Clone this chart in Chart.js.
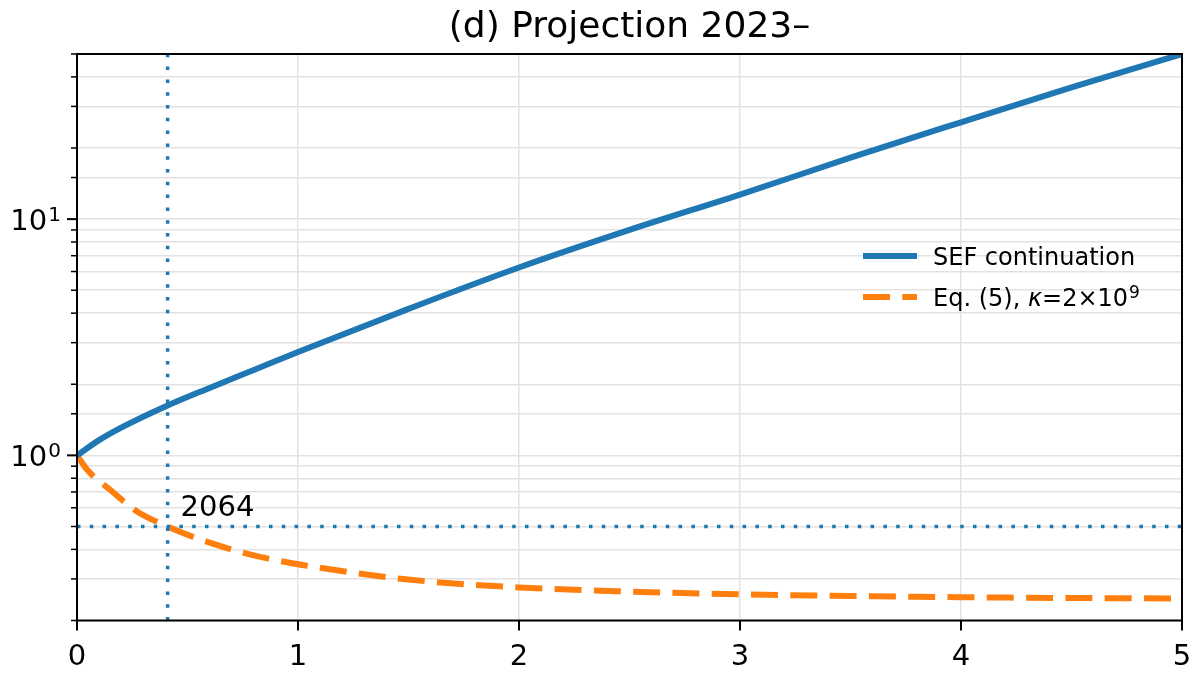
<!DOCTYPE html>
<html>
<head>
<meta charset="utf-8">
<title>Projection 2023–</title>
<script src="https://cdn.jsdelivr.net/npm/chart.js@4"></script>
<style>
  html, body { margin: 0; padding: 0; background: #fff; }
  #wrap { width: 1200px; height: 675px; }
</style>
</head>
<body>
<div id="wrap"><canvas id="projection"></canvas></div>
<script>
// x axis: centuries after 2023
const sefX = [0, 0.1, 0.2, 0.4, 0.6, 0.8, 1, 1.5, 2, 2.5, 3, 3.5, 4, 4.5, 5];
const sefY = [1.0, 1.16, 1.31, 1.61, 1.93, 2.30, 2.74, 4.17, 6.24, 9.0, 12.7, 18.2, 25.7, 36.1, 50];

const eqX = [0, 0.05, 0.15, 0.27, 0.41, 0.6, 0.85, 1.13, 1.5, 2, 2.5, 3, 3.5, 4, 4.5, 5];
const eqY = [1.0, 0.86, 0.715, 0.58, 0.5, 0.427, 0.368, 0.331, 0.298, 0.276, 0.265, 0.258, 0.254, 0.251, 0.249, 0.248];

const crossX = 0.41;      // 2064
const crossY = 0.5;
const crossLabel = '2064';

const xTicks = [0, 1, 2, 3, 4, 5];
const yRange = [0.2, 50];

const titleText = '(d) Projection 2023–';
const blue = '#1f77b4';
const orange = '#ff7f0e';
const font = 'DejaVu Sans';

const pts = (xs, ys) => xs.map((x, i) => ({ x: x, y: ys[i] }));

function isDecade(v) {
  const l = Math.log10(v);
  return Math.abs(l - Math.round(l)) < 1e-9;
}

const supChars = { '⁰': '0', '¹': '1', '²': '2', '³': '3', '⁴': '4', '⁵': '5', '⁶': '6', '⁷': '7', '⁸': '8', '⁹': '9', '⁻': '−' };
const toSup = { '0': '⁰', '1': '¹', '2': '²', '3': '³', '-': '⁻' };

function yLabel(v) {
  if (!isDecade(v)) return '';
  return '10' + String(Math.round(Math.log10(v))).split('').map(c => toSup[c]).join('');
}

// draws text with real superscripts and an italic kappa, like mathtext
function drawRich(ctx, text, x, y, size, align) {
  const segs = [];
  for (const ch of text) {
    let kind = 'n', c = ch;
    if (supChars[ch]) { kind = 's'; c = supChars[ch]; }
    else if (ch === 'κ') kind = 'i';
    const last = segs[segs.length - 1];
    if (last && last.kind === kind) last.t += c; else segs.push({ kind: kind, t: c });
  }
  const fontFor = k => (k === 'i' ? 'italic ' : '') + Math.round(k === 's' ? size * 0.7 : size) + 'px "' + font + '"';
  let w = 0;
  segs.forEach(s => { ctx.font = fontFor(s.kind); s.w = ctx.measureText(s.t).width; w += s.w + (s.kind === 's' ? 1 : 0); });
  let cx = align === 'right' ? x - w : x;
  ctx.textAlign = 'left';
  ctx.textBaseline = 'alphabetic';
  segs.forEach(s => {
    ctx.font = fontFor(s.kind);
    if (s.kind === 's') cx += 1;
    ctx.fillText(s.t, cx, s.kind === 's' ? y - size * 0.33 : y);
    cx += s.w;
  });
}

// title over the axes, frame, tick marks, y labels, annotation text and legend
const extras = {
  id: 'extras',
  afterDraw(chart) {
    const { ctx, chartArea: a, scales: { x, y } } = chart;
    ctx.save();
    ctx.strokeStyle = '#000';
    ctx.fillStyle = '#000';
    ctx.lineCap = 'butt';

    ctx.font = '36px "' + font + '"';
    ctx.textAlign = 'center';
    ctx.textBaseline = 'alphabetic';
    ctx.fillText(titleText, (a.left + a.right) / 2, 37);

    ctx.lineWidth = 2;
    xTicks.forEach(v => {
      const px = x.getPixelForValue(v);
      ctx.beginPath(); ctx.moveTo(px, a.bottom); ctx.lineTo(px, a.bottom + 10); ctx.stroke();
    });
    y.ticks.forEach(t => {
      const py = y.getPixelForValue(t.value);
      const major = isDecade(t.value);
      ctx.lineWidth = major ? 2 : 1.5;
      ctx.beginPath(); ctx.moveTo(a.left, py); ctx.lineTo(a.left - (major ? 10 : 6), py); ctx.stroke();
      const lbl = yLabel(t.value);
      if (lbl) drawRich(ctx, lbl, a.left - 16, py + 11, 29, 'right');
    });

    ctx.lineWidth = 2;
    ctx.strokeRect(a.left, a.top, a.right - a.left, a.bottom - a.top);

    // year label at the crossing
    ctx.font = '29px "' + font + '"';
    ctx.textBaseline = 'alphabetic';
    ctx.textAlign = 'left';
    ctx.fillText(crossLabel, x.getPixelForValue(crossX) + 13, y.getPixelForValue(crossY) - 10);

    // legend
    const items = chart.data.datasets.filter(d => d.inLegend);
    items.forEach((d, i) => {
      const ly = 256 + i * 41;
      ctx.strokeStyle = d.borderColor;
      ctx.lineWidth = d.borderWidth;
      ctx.setLineDash(d.borderDash || []);
      ctx.beginPath(); ctx.moveTo(863, ly); ctx.lineTo(917, ly); ctx.stroke();
      ctx.setLineDash([]);
      ctx.fillStyle = '#000';
      drawRich(ctx, d.label, 933, ly + 8.5, 24, 'left');
    });
    ctx.restore();
  }
};

new Chart(document.getElementById('projection'), {
  type: 'line',
  data: {
    datasets: [
      {
        label: 'SEF continuation',
        data: pts(sefX, sefY),
        borderColor: blue,
        borderWidth: 6,
        pointRadius: 0,
        cubicInterpolationMode: 'monotone',
        inLegend: true,
        order: 2
      },
      {
        label: 'Eq. (5), κ=2×10⁹',
        data: pts(eqX, eqY),
        borderColor: orange,
        borderWidth: 6,
        borderDash: [27, 12.3],
        pointRadius: 0,
        cubicInterpolationMode: 'monotone',
        inLegend: true,
        order: 3
      },
      {
        label: 'year line',
        data: pts([crossX, crossX], yRange),
        borderColor: blue,
        borderWidth: 3.5,
        borderDash: [3.5, 9.3],
        pointRadius: 0,
        order: 1
      },
      {
        label: 'half line',
        data: pts([xTicks[0], xTicks[xTicks.length - 1]], [crossY, crossY]),
        borderColor: blue,
        borderWidth: 3.5,
        borderDash: [3.5, 9.3],
        pointRadius: 0,
        order: 1
      }
    ]
  },
  options: {
    responsive: true,
    maintainAspectRatio: false,
    animation: false,
    events: [],
    layout: { padding: { left: 0, right: 18, top: 54, bottom: 0 } },
    plugins: {
      legend: { display: false },
      tooltip: { enabled: false },
      title: { display: false }
    },
    scales: {
      x: {
        type: 'linear',
        min: 0,
        max: 5,
        afterFit: s => { s.height = 54.5; s.paddingLeft = 0; s.paddingRight = 0; },
        afterBuildTicks: s => { s.ticks = xTicks.map(v => ({ value: v })); },
        ticks: {
          color: '#000',
          font: { family: font, size: 29 },
          padding: 20,
          maxRotation: 0
        },
        grid: { color: '#e2e2e2', lineWidth: 1.5, drawTicks: false },
        border: { display: false }
      },
      y: {
        type: 'logarithmic',
        min: yRange[0],
        max: yRange[1],
        afterFit: s => { s.width = 77; s.paddingTop = 0; s.paddingBottom = 0; },
        ticks: { display: false, autoSkip: false },
        grid: { color: '#e2e2e2', lineWidth: 1.5, drawTicks: false },
        border: { display: false }
      }
    }
  },
  plugins: [extras]
});
</script>
</body>
</html>
